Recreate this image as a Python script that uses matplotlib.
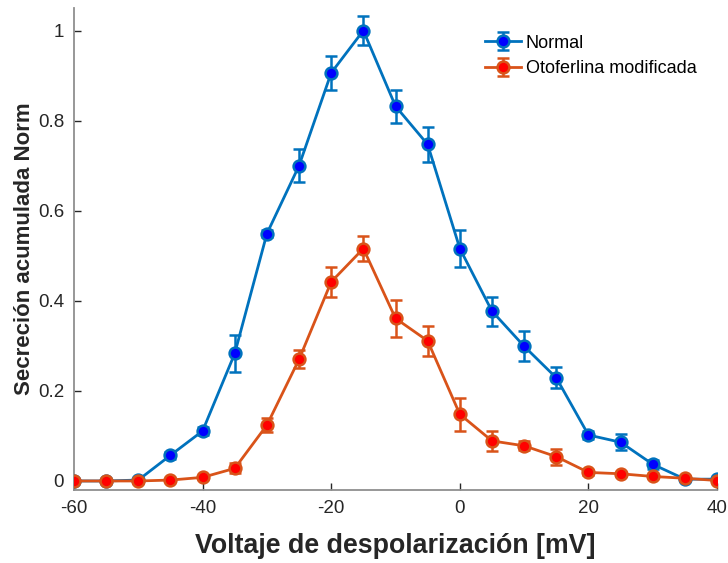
"""Secrecion acumulada normalizada vs voltaje de despolarizacion."""

import matplotlib
matplotlib.use("Agg")
import matplotlib.pyplot as plt
import numpy as np

voltage = np.arange(-60, 45, 5)

normal = [0.0, 0.0, 0.002, 0.057, 0.111, 0.283, 0.549, 0.700, 0.906, 1.0,
          0.832, 0.747, 0.516, 0.377, 0.299, 0.229, 0.102, 0.086, 0.037,
          0.004, 0.004]
normal_err = [0.002, 0.002, 0.002, 0.008, 0.008, 0.041, 0.008, 0.037, 0.038,
              0.032, 0.037, 0.038, 0.041, 0.032, 0.033, 0.023, 0.009, 0.018,
              0.010, 0.003, 0.003]

modified = [0.0, 0.0, 0.0, 0.002, 0.008, 0.028, 0.124, 0.270, 0.442, 0.516,
            0.361, 0.311, 0.148, 0.089, 0.078, 0.054, 0.019, 0.016, 0.010,
            0.006, 0.001]
modified_err = [0.002, 0.002, 0.002, 0.003, 0.004, 0.011, 0.015, 0.020,
                0.033, 0.028, 0.041, 0.033, 0.036, 0.023, 0.010, 0.018,
                0.005, 0.005, 0.004, 0.003, 0.003]

x_ticks = [-60, -40, -20, 0, 20, 40]
y_ticks = [0, 0.2, 0.4, 0.6, 0.8, 1.0]
y_tick_labels = ["0", "0.2", "0.4", "0.6", "0.8", "1"]


def main() -> None:
    plt.rcParams["font.family"] = ["Liberation Sans", "DejaVu Sans"]
    plt.rcParams["axes.unicode_minus"] = False

    fig = plt.figure(figsize=(7.28, 5.63), dpi=100)
    ax = fig.add_axes([0.1016, 0.1297, 0.8834, 0.8561])

    style = dict(marker="o", markersize=8.5, markeredgewidth=1.8,
                 linewidth=2.0, elinewidth=1.8, capsize=4, capthick=1.8)
    ax.errorbar(voltage, normal, yerr=normal_err, color="#0072BD",
                markerfacecolor="#0000FF", markeredgecolor="#0072BD",
                label="Normal", zorder=3, **style)
    ax.errorbar(voltage, modified, yerr=modified_err, color="#D95319",
                markerfacecolor="#FF0000", markeredgecolor="#D95319",
                label="Otoferlina modificada", zorder=4, **style)

    ax.set_xlim(-60, 40)
    ax.set_ylim(-0.02, 1.05)
    ax.set_xticks(x_ticks)
    ax.set_yticks(y_ticks)
    ax.set_yticklabels(y_tick_labels)

    for side in ("top", "right"):
        ax.spines[side].set_visible(False)
    for side in ("left", "bottom"):
        ax.spines[side].set_color("#8f8f8f")
        ax.spines[side].set_linewidth(1.3)
    ax.tick_params(direction="in", length=5, width=1.0, colors="#262626",
                   labelsize=13.5, pad=7)
    for lab in ax.get_xticklabels() + ax.get_yticklabels():
        lab.set_color("#262626")

    ax.set_xlabel("Voltaje de despolarización [mV]", fontsize=19.3,
                  fontweight="bold", color="#262626", labelpad=12)
    ax.set_ylabel("Secreción acumulada Norm", fontsize=16,
                  fontweight="bold", color="#262626")
    ax.yaxis.set_label_coords(-0.06, 0.5)

    ax.legend(loc="upper right", bbox_to_anchor=(0.985, 0.967), frameon=False,
              fontsize=13, handlelength=2.0, handletextpad=0.25,
              labelspacing=0.45, borderaxespad=0.2)

    fig.savefig("out.png", dpi=100)
    plt.close(fig)


if __name__ == "__main__":
    main()
